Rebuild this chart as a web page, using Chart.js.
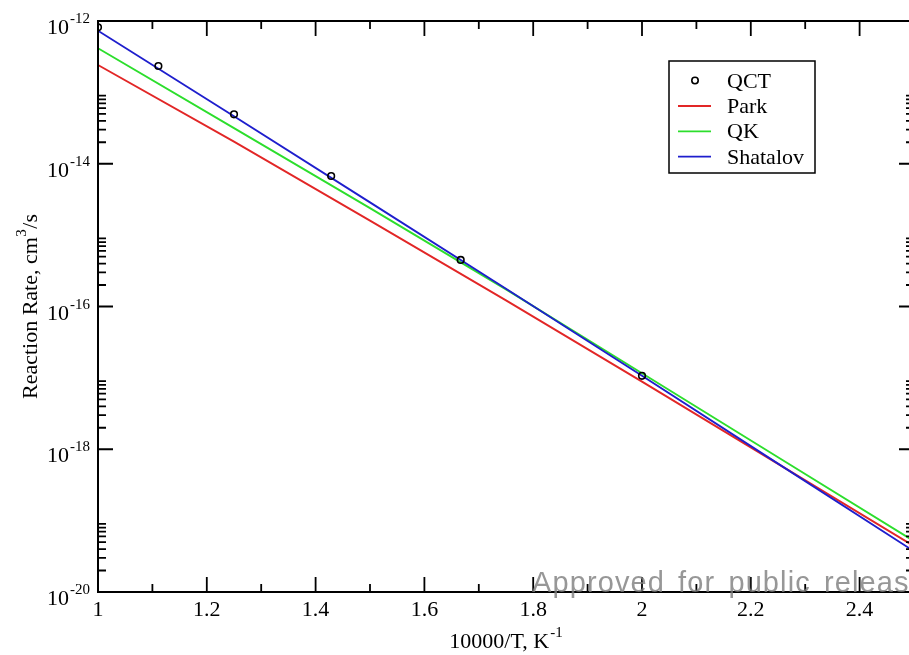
<!DOCTYPE html>
<html>
<head>
<meta charset="utf-8">
<script src="https://cdn.jsdelivr.net/npm/chart.js@4"></script>
<style>
  html, body { margin: 0; padding: 0; background: #fff; overflow: hidden; }
  #chart { display: block; }
</style>
</head>
<body>
<canvas id="chart" width="930" height="655"></canvas>
<script>
// 10000/T grid for the fitted rate curves
const xLine = [1, 1.25, 1.5, 1.75, 2, 2.25, 2.5];
const park = [2.42e-13, 2.04e-14, 1.60e-15, 1.22e-16, 8.87e-18, 6.24e-19, 4.40e-20];
const qk = [4.15e-13, 3.16e-14, 2.39e-15, 1.74e-16, 1.16e-17, 7.73e-19, 5.15e-20];
const shatalov = [7.31e-13, 4.63e-14, 2.88e-15, 1.77e-16, 1.07e-17, 6.28e-19, 3.72e-20];

// QCT points
const qctX = [1, 1.111, 1.25, 1.4286, 1.6667, 2];
const qctRate = [8.17e-13, 2.34e-13, 4.93e-14, 6.74e-15, 4.50e-16, 1.07e-17];

// ticks
const xMajorTicks = [1, 1.2, 1.4, 1.6, 1.8, 2, 2.2, 2.4];
const xMinorTicks = [1.1, 1.3, 1.5, 1.7, 1.9, 2.1, 2.3, 2.5];
const yMajorExp = [-12, -14, -16, -18, -20];

const legendItems = ["QCT", "Park", "QK", "Shatalov"];

const RED = "rgb(226,38,38)";
const GREEN = "rgb(44,222,44)";
const BLUE = "rgb(30,30,205)";
const SERIF = "'Liberation Serif', 'DejaVu Serif', serif";

const toPoints = (xs, ys) => xs.map((v, i) => ({ x: v, y: ys[i] }));

// text with a raised exponent; align "right" or "center"
const drawSup = (ctx, base, sup, x, yBase, align) => {
  ctx.font = "22px " + SERIF;
  const wb = ctx.measureText(base).width;
  ctx.font = "15px " + SERIF;
  const ws = ctx.measureText(sup).width;
  let x0 = x;
  if (align === "right") x0 = x - ws - wb - 1;
  if (align === "center") x0 = x - (wb + ws + 1) / 2;
  ctx.textAlign = "left";
  ctx.font = "22px " + SERIF;
  ctx.fillText(base, x0, yBase);
  ctx.font = "15px " + SERIF;
  ctx.fillText(sup, x0 + wb + 1, yBase - 11);
};

const framePlugin = {
  id: "frame",
  afterDraw(chart) {
    const { ctx, chartArea: a, scales } = chart;
    const xs = scales.x, ys = scales.y;
    ctx.save();
    ctx.strokeStyle = "#000";
    ctx.fillStyle = "#000";

    // box
    ctx.lineWidth = 2;
    ctx.strokeRect(a.left, a.top, a.right - a.left, a.bottom - a.top);

    // x ticks (bottom and top, pointing inward)
    ctx.lineWidth = 1.8;
    ctx.beginPath();
    xMajorTicks.forEach((v) => {
      const px = xs.getPixelForValue(v);
      ctx.moveTo(px, a.bottom); ctx.lineTo(px, a.bottom - 15);
      ctx.moveTo(px, a.top); ctx.lineTo(px, a.top + 15);
    });
    xMinorTicks.forEach((v) => {
      const px = xs.getPixelForValue(v);
      ctx.moveTo(px, a.bottom); ctx.lineTo(px, a.bottom - 8);
      ctx.moveTo(px, a.top); ctx.lineTo(px, a.top + 8);
    });
    // y ticks (left and right)
    yMajorExp.forEach((e) => {
      const py = ys.getPixelForValue(Math.pow(10, e));
      ctx.moveTo(a.left, py); ctx.lineTo(a.left + 15, py);
      ctx.moveTo(a.right, py); ctx.lineTo(a.right - 15, py);
      if (e > -12) return;
      for (let k = 2; k <= 9; k++) {
        const pm = ys.getPixelForValue(k * Math.pow(10, e));
        if (pm < a.top) continue;
        ctx.moveTo(a.left, pm); ctx.lineTo(a.left + 8, pm);
        ctx.moveTo(a.right, pm); ctx.lineTo(a.right - 8, pm);
      }
    });
    ctx.stroke();

    // tick labels
    ctx.textBaseline = "alphabetic";
    ctx.font = "22px " + SERIF;
    ctx.textAlign = "center";
    xMajorTicks.forEach((v) => {
      ctx.fillText(String(v), xs.getPixelForValue(v), a.bottom + 24);
    });
    yMajorExp.forEach((e) => {
      const py = ys.getPixelForValue(Math.pow(10, e));
      drawSup(ctx, "10", String(e), a.left - 8, py + 13, "right");
    });

    // axis titles
    drawSup(ctx, "10000/T, K", "-1", (a.left + a.right) / 2, 648, "center");
    ctx.save();
    ctx.translate(37, (a.top + a.bottom) / 2);
    ctx.rotate(-Math.PI / 2);
    ctx.font = "22px " + SERIF;
    const t1 = "Reaction Rate, cm";
    const w1 = ctx.measureText(t1).width;
    const w2 = ctx.measureText("/s").width;
    ctx.font = "15px " + SERIF;
    const w3 = ctx.measureText("3").width;
    const x0 = -(w1 + w2 + w3 + 1) / 2;
    ctx.font = "22px " + SERIF;
    ctx.textAlign = "left";
    ctx.fillText(t1, x0, 0);
    ctx.fillText("/s", x0 + w1 + w3 + 1, 0);
    ctx.font = "15px " + SERIF;
    ctx.fillText("3", x0 + w1 + 0.5, -11);
    ctx.restore();

    // legend
    ctx.fillStyle = "#fff";
    ctx.fillRect(669, 61, 146, 112);
    ctx.lineWidth = 1.5;
    ctx.strokeStyle = "#000";
    ctx.strokeRect(669, 61, 146, 112);
    const rows = [80.5, 106, 131.3, 156.6];
    const cols = [null, RED, GREEN, BLUE];
    ctx.font = "22px " + SERIF;
    ctx.textAlign = "left";
    legendItems.forEach((name, i) => {
      const ry = rows[i];
      if (i === 0) {
        ctx.beginPath();
        ctx.lineWidth = 1.6;
        ctx.strokeStyle = "#000";
        ctx.arc(695, ry, 3.2, 0, Math.PI * 2);
        ctx.stroke();
      } else {
        ctx.beginPath();
        ctx.lineWidth = 1.8;
        ctx.strokeStyle = cols[i];
        ctx.moveTo(678, ry); ctx.lineTo(711, ry);
        ctx.stroke();
      }
      ctx.fillStyle = "#000";
      ctx.fillText(name, 727, ry + 7);
    });

    // watermark
    ctx.font = "29px 'Liberation Sans', Arial, sans-serif";
    ctx.fillStyle = "rgba(125,125,125,0.8)";
    ctx.letterSpacing = "1.1px";
    ctx.wordSpacing = "4px";
    ctx.fillText("Approved for public release", 532, 592);
    ctx.restore();
  },
};

new Chart(document.getElementById("chart"), {
  type: "scatter",
  data: {
    datasets: [
      {
        label: "QCT",
        data: toPoints(qctX, qctRate),
        showLine: false,
        pointRadius: 3.3,
        pointBorderWidth: 1.6,
        pointBorderColor: "#000",
        pointBackgroundColor: "rgba(255,255,255,0)",
      },
      {
        label: "Shatalov",
        data: toPoints(xLine, shatalov),
        showLine: true,
        borderColor: BLUE,
        borderWidth: 1.9,
        pointRadius: 0,
        tension: 0,
      },
      {
        label: "QK",
        data: toPoints(xLine, qk),
        showLine: true,
        borderColor: GREEN,
        borderWidth: 1.9,
        pointRadius: 0,
        tension: 0,
      },
      {
        label: "Park",
        data: toPoints(xLine, park),
        showLine: true,
        borderColor: RED,
        borderWidth: 1.9,
        pointRadius: 0,
        tension: 0,
      },
    ],
  },
  options: {
    responsive: false,
    animation: false,
    devicePixelRatio: 1,
    layout: { padding: { top: 21, right: 16, bottom: 0, left: 0 } },
    plugins: { legend: { display: false }, tooltip: { enabled: false } },
    scales: {
      x: {
        type: "linear",
        min: 1,
        max: 2.5,
        ticks: { display: false },
        grid: { display: false },
        border: { display: false },
        afterFit: (s) => { s.height = 63; },
      },
      y: {
        type: "logarithmic",
        min: 1e-20,
        max: 1e-12,
        ticks: { display: false },
        grid: { display: false },
        border: { display: false },
        afterFit: (s) => { s.width = 98; },
      },
    },
  },
  plugins: [framePlugin],
});
</script>
</body>
</html>
